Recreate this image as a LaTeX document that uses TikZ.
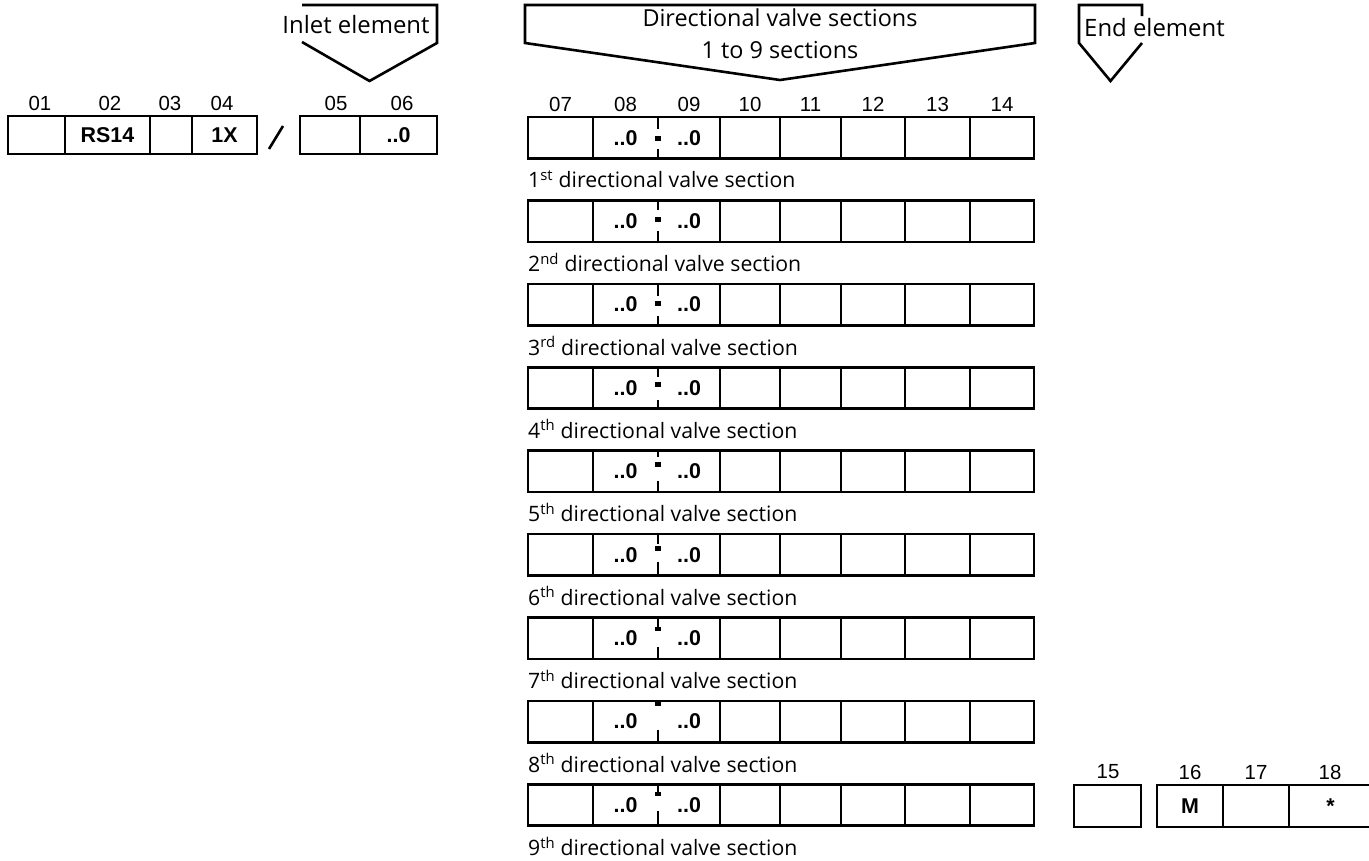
\documentclass[tikz,border=0pt]{standalone}
\usepackage{fontspec}
\setmainfont{Open Sans}
\newfontfamily\numfont{Liberation Sans}
\usetikzlibrary{calc}
\begin{document}
\begin{tikzpicture}[x=1bp,y=-1bp,
  frame/.style={line width=2.6bp, line join=miter},
  cellbox/.style={draw, line width=2.6bp, inner sep=0pt, outer sep=0pt, font=\numfont\fontsize{21.5}{23}\selectfont\bfseries},
  cellfree/.style={draw=none, inner sep=0pt, outer sep=0pt, font=\numfont\fontsize{21.5}{23}\selectfont\bfseries},
  numlbl/.style={inner sep=0pt, font=\numfont\fontsize{20.5}{22}\selectfont},
  desc/.style={inner sep=0pt, anchor=west, font=\fontsize{21.3}{24}\selectfont},
  callout/.style={inner sep=0pt, font=\fontsize{23.5}{32}\selectfont, align=center},
  divline/.style={line width=2.1bp},
  blob/.style={fill=black, draw=none}
]
\useasboundingbox (0,0) rectangle (1369,860);

% ---------- callouts ----------
\draw[frame] (302,42) -- (369.5,81) -- (437,43) -- (437,5) -- (302,5);
\node[callout, font=\fontsize{24}{32}\selectfont] (tinlet) at (356,25) {Inlet element};

\draw[frame] (525,5) -- (1035,5) -- (1035,43) -- (780,80) -- (525,43) -- cycle;
\node[callout] (tdir) at (780,34) {Directional valve sections\\1 to 9 sections};

\draw[frame] (1142,16) -- (1142,5) -- (1079,5) -- (1079,43) -- (1110.5,81) -- (1142,43);
\node[callout, anchor=west, font=\fontsize{24}{32}\selectfont] (tend) at (1084,28) {End element};

% ---------- inlet group ----------
\def\ytop{116}\def\ybot{154}
\foreach \nm/\xa/\xb/\txt/\lx in {01/8/65//40, 02/65/150/RS14/110, 03/150/192//170, 04/192/257/1X/222, 05/300/360//336, 06/360/437/..0/402}{
  \node[cellbox, minimum width={\xb-\xa}, minimum height={\ybot-\ytop}] (c\nm) at ({(\xa+\xb)/2},{(\ytop+\ybot)/2}) {\txt};
  \node[numlbl] (l\nm) at (\lx,103) {\nm};
}
\coordinate (slA) at (269,149);
\coordinate (slB) at (283,126);
\draw[line width=2.6bp] (slA) -- (slB);

% ---------- directional valve sections ----------
\def\rh{41.5}
\foreach \r/\sup/\ta/\bc/\bh/\tb in {
  1/st/11.7/21.7/5/31.7,
  2/nd/9.3/18.7/5/31,
  3/rd/11.7/20/5/31.7,
  4/th/9.3/16.8/5/32.7,
  5/th/6.7/14.2/5/30,
  6/th/10/14.2/5/28.3,
  7/th/12/11.5/4/30,
  8/th/4.5/3.5/4/29,
  9/th/11.5/10/4/27}{
  \pgfmathsetmacro{\yt}{117+(\r-1)*83.4}
  \pgfmathsetmacro{\yc}{\yt+\rh/2}
  \node[cellbox, minimum width=65, minimum height=\rh] (r\r c07) at (560.5,\yc) {};
  \node[cellfree, minimum width=65, minimum height=\rh] (r\r c08) at (625.5,\yc) {..0};
  \node[cellfree, minimum width=62, minimum height=\rh] (r\r c09) at (689,\yc) {..0};
  \draw[frame] (r\r c08.north west) rectangle (r\r c09.south east);
  \node[cellbox, minimum width=60, minimum height=\rh] (r\r c10) at (750,\yc) {};
  \node[cellbox, minimum width=61, minimum height=\rh] (r\r c11) at (810.5,\yc) {};
  \node[cellbox, minimum width=64, minimum height=\rh] (r\r c12) at (873,\yc) {};
  \node[cellbox, minimum width=65, minimum height=\rh] (r\r c13) at (937.5,\yc) {};
  \node[cellbox, minimum width=64, minimum height=\rh] (r\r c14) at (1002,\yc) {};
  % dashed divider between 08 and 09
  \draw[divline] (658,\yt) -- ++(0,\ta);
  \draw[divline] (658,\yt+\tb) -- (658,\yt+\rh);
  \fill[blob] (655,\yt+\bc-\bh/2) rectangle (661,\yt+\bc+\bh/2);
  \node[desc] (d\r) at (528,\yt+62) {\r\textsuperscript{\sup} directional valve section};
}
\foreach \nm/\lx in {07/560.5, 08/625.5, 09/689, 10/750, 11/810.5, 12/873, 13/937.5, 14/1002}{
  \node[numlbl] (l\nm) at (\lx,104) {\nm};
}

% ---------- end group ----------
\def\etop{785}\def\ebot{827}
\foreach \nm/\xa/\xb/\txt/\lx in {15/1074/1141//1108, 16/1157/1223/M/1190, 17/1223/1289//1256, 18/1289/1372/*/1330}{
  \node[cellbox, minimum width={\xb-\xa}, minimum height={\ebot-\etop}] (c\nm) at ({(\xa+\xb)/2},{(\etop+\ebot)/2}) {\txt};
  \node[numlbl] (l\nm) at (\lx,772) {\nm};
}
\end{tikzpicture}
\end{document}
